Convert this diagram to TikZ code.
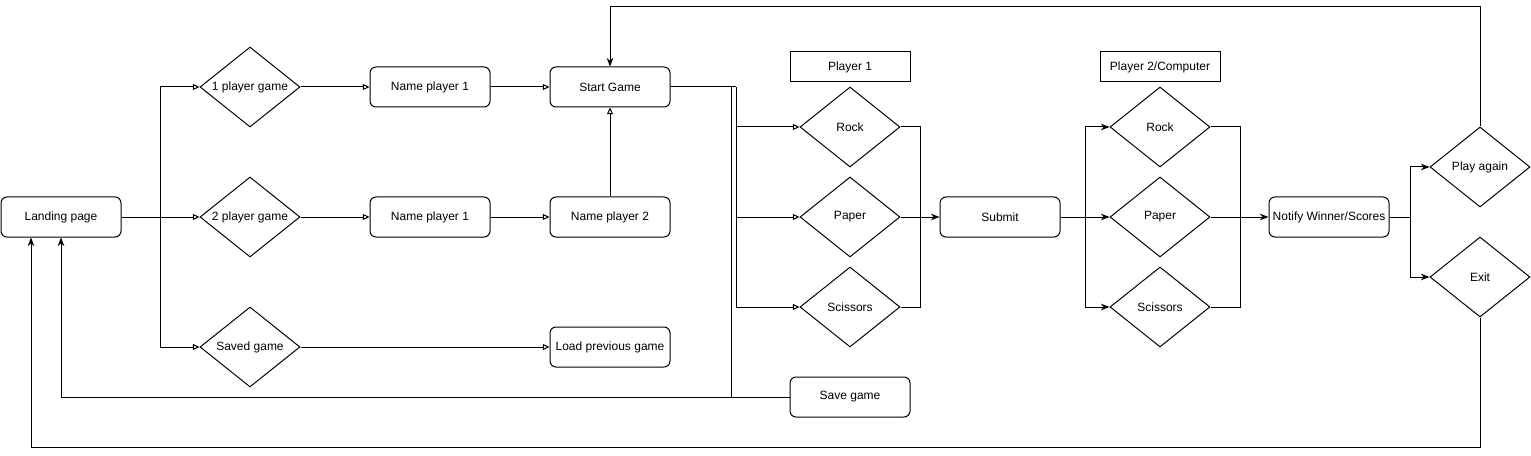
\documentclass[tikz,border=0pt]{standalone}
\usepackage{fontspec}
\setmainfont{Liberation Sans}
\usetikzlibrary{shapes.geometric,arrows.meta}
\begin{document}
\begin{tikzpicture}[x=0.75pt,y=-0.75pt,
    every node/.style={font=\fontsize{9}{11}\selectfont},
    card/.style={draw, rounded corners=4.5pt, minimum width=90pt, minimum height=30pt, inner sep=1pt, line width=0.75pt},
    pick/.style={draw, diamond, aspect=1.25, minimum width=75pt, minimum height=60pt, inner sep=0pt, line width=0.75pt},
    header/.style={draw, minimum width=90pt, minimum height=22.5pt, inner sep=1pt, line width=0.75pt},
    line/.style={line width=0.75pt},
    hollow/.style={line, -{Triangle[open,length=5pt,width=4.5pt]}},
    flow/.style={line, -{Stealth[length=6.5pt,width=5pt]}}]
    \useasboundingbox (0,0) rectangle (1531,456);

    % Start and the three ways in
    \node[card] (land) at (61,217) {Landing page};
    \node[pick] (one) at (250,87) {1 player game};
    \node[pick] (two) at (250,217) {2 player game};
    \node[pick] (saved) at (250,347) {Saved game};
    \node[card] (nameA) at (430,87) {Name player 1};
    \node[card] (nameB) at (430,217) {Name player 1};
    \node[card] (start) at (610,87) {Start Game};
    \node[card] (nameC) at (610,217) {Name player 2};
    \node[card] (load) at (610,347) {Load previous game};

    % Moves of player 1
    \node[header] (head1) at (850,67) {Player 1};
    \node[pick] (rock1) at (850,127) {Rock};
    \node[pick] (paper1) at (850,217) {Paper};
    \node[pick] (scis1) at (850,307) {Scissors};
    \node[card] (save) at (850,397) {Save game};
    \node[card] (submit) at (1000,217) {Submit};

    % Moves of player 2
    \node[header] (head2) at (1160,67) {Player 2/Computer};
    \node[pick] (rock2) at (1160,127) {Rock};
    \node[pick] (paper2) at (1160,217) {Paper};
    \node[pick] (scis2) at (1160,307) {Scissors};

    % End of a round
    \node[card] (notify) at (1329,217) {Notify Winner/Scores};
    \node[pick] (again) at (1480,167) {Play again};
    \node[pick] (exit) at (1480,277) {Exit};

    % Bend points
    \coordinate (split) at (160,217);
    \coordinate (split1) at (736,87);
    \coordinate (join1) at (920,217);
    \coordinate (split2) at (1085,217);
    \coordinate (join2) at (1240,217);
    \coordinate (split3) at (1410,217);
    \coordinate (high) at (610,7);
    \coordinate (low) at (31,447);

    % Landing page to the game modes
    \draw[line] (land.east) -- (split);
    \draw[hollow] (split) |- (one.west);
    \draw[hollow] (split) -- (two.west);
    \draw[hollow] (split) |- (saved.west);
    \draw[hollow] (one) -- (nameA);
    \draw[hollow] (nameA) -- (start);
    \draw[hollow] (two) -- (nameB);
    \draw[hollow] (nameB) -- (nameC);
    \draw[hollow] (nameC) -- (start);
    \draw[hollow] (saved) -- (load);

    % Start game to the moves of player 1
    \draw[line] (start.east) -- (split1);
    \draw[hollow] (split1) |- (rock1.west);
    \draw[hollow] (split1) |- (paper1.west);
    \draw[hollow] (split1) |- (scis1.west);
    \draw[line] (start.east) -- ++(61,0) |- (save.west);
    \draw[flow] (save.west) -| (land.south);

    % Player 1 to submit, submit to player 2
    \draw[line] (rock1.east) -| (join1);
    \draw[line] (scis1.east) -| (join1);
    \draw[flow] (paper1.east) -- (submit.west);
    \draw[line] (submit.east) -- (split2);
    \draw[flow] (split2) |- (rock2.west);
    \draw[flow] (split2) -- (paper2.west);
    \draw[flow] (split2) |- (scis2.west);

    % Player 2 to the result
    \draw[line] (rock2.east) -| (join2);
    \draw[line] (scis2.east) -| (join2);
    \draw[flow] (paper2.east) -- (notify.west);
    \draw[line] (notify.east) -- (split3);
    \draw[flow] (split3) |- (again.west);
    \draw[flow] (split3) |- (exit.west);

    % Loops back
    \draw[flow] (again.north) |- (high) -- (start.north);
    \draw[flow] (exit.south) |- (low) -- (land.south -| low);
\end{tikzpicture}
\end{document}
